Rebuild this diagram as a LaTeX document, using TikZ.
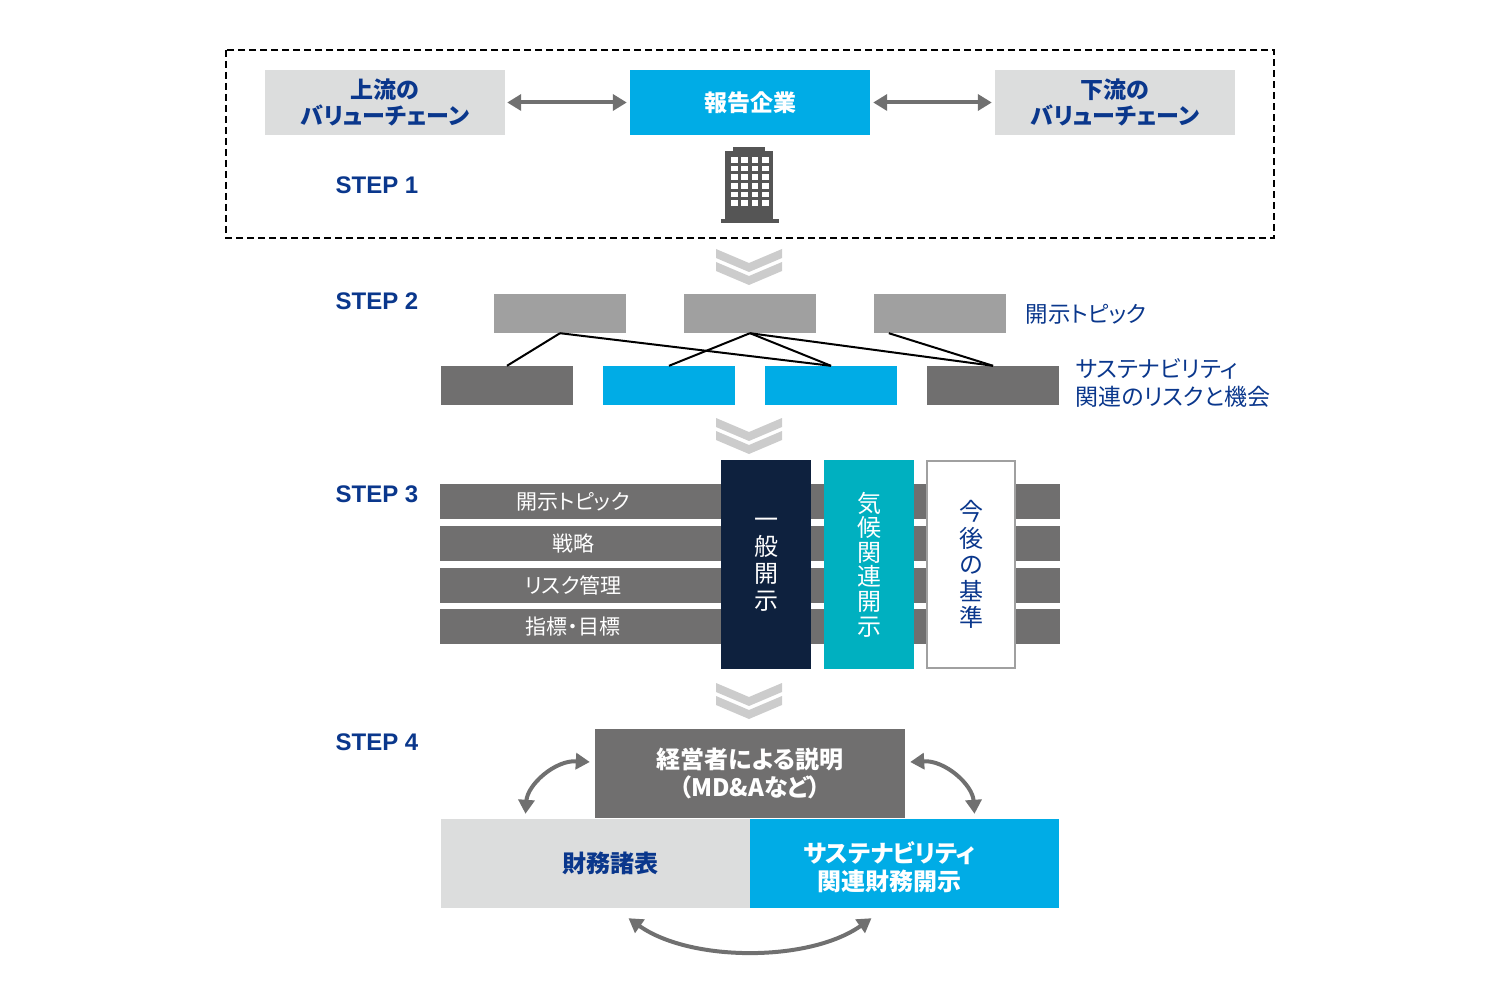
\documentclass[tikz,border=0pt]{standalone}
\usepackage{fontspec}
\setmainfont{Noto Sans CJK JP}[RawFeature=+palt]
\newfontfamily\stepfont{Liberation Sans}
\usetikzlibrary{arrows.meta}
\definecolor{navy}{RGB}{10,55,140}
\definecolor{skyblue}{RGB}{0,172,230}
\definecolor{paleGray}{RGB}{220,221,221}
\definecolor{topicGray}{RGB}{160,160,160}
\definecolor{barGray}{RGB}{112,111,111}
\definecolor{chevGray}{RGB}{204,204,204}
\definecolor{linkGray}{RGB}{112,112,112}
\definecolor{towerGray}{RGB}{85,85,85}
\definecolor{deepNavy}{RGB}{14,33,62}
\definecolor{climTeal}{RGB}{0,176,192}
\begin{document}
\begin{tikzpicture}[x=1pt,y=-1pt,
    chainbox/.style={inner sep=0pt,minimum width=240pt,minimum height=65pt,align=center,font=\bfseries\fontsize{23}{26}\selectfont},
    steplabel/.style={text=navy,font=\stepfont\bfseries\fontsize{24}{28}\selectfont},
    topicbox/.style={fill=topicGray,inner sep=0pt,minimum width=132pt,minimum height=39pt},
    riskbox/.style={inner sep=0pt,minimum width=132pt,minimum height=39pt},
    rowbar/.style={fill=barGray,inner sep=0pt,minimum width=620pt,minimum height=35pt},
    rowtext/.style={text=white,font=\fontsize{21}{25}\selectfont},
    pillar/.style={inner sep=0pt,minimum width=90pt,minimum height=209pt,align=center},
    reportbox/.style={inner sep=0pt,minimum width=309pt,minimum height=89pt},
    linkarrow/.style={linkGray,line width=4pt,{Triangle[length=14pt,width=16pt]}-{Triangle[length=14pt,width=16pt]}}]
    \useasboundingbox (0,0) rectangle (1500,1000);
    % step 1
    \draw[dashed,line width=1.5pt,dash pattern=on 7pt off 4pt] (226,50) rectangle (1274,238);
    \node[chainbox,fill=paleGray,text=navy] (up) at (385,102.5) {上流の\\バリューチェーン};
    \node[chainbox,fill=skyblue,text=white] (firm) at (750,102.5) {報告企業};
    \node[chainbox,fill=paleGray,text=navy] (down) at (1115,102.5) {下流の\\バリューチェーン};
    \draw[linkarrow,shorten <=2pt,shorten >=3pt] (up) -- (firm);
    \draw[linkarrow,shorten <=3pt,shorten >=3pt] (firm) -- (down);
    \node[steplabel] (s1) at (377,185) {STEP 1};
    \fill[towerGray] (733,147) rectangle (765,152);
    \fill[towerGray] (725,151) rectangle (773,220);
    \fill[towerGray] (721,219) rectangle (779,223);
    \foreach \c in {0,...,3}
        \foreach \r in {0,...,5}
            \fill[white] (731+\c*10.4,157+\r*8.7) rectangle ++(6.6,5.6);
    % chevrons
    \foreach \cy in {249,418,683}
        \foreach \d in {0,13}
            \fill[chevGray] (716,\cy+\d) -- (749,\cy+\d+14) -- (782,\cy+\d) -- (782,\cy+\d+9)
                -- (749,\cy+\d+23) -- (716,\cy+\d+9) -- cycle;
    % step 2
    \node[steplabel] (s2) at (377,301) {STEP 2};
    \node[topicbox] (t1) at (560,313.5) {};
    \node[topicbox] (t2) at (750,313.5) {};
    \node[topicbox] (t3) at (940,313.5) {};
    \node[riskbox,fill=barGray] (r1) at (507,385.5) {};
    \node[riskbox,fill=skyblue] (r2) at (669,385.5) {};
    \node[riskbox,fill=skyblue] (r3) at (831,385.5) {};
    \node[riskbox,fill=barGray] (r4) at (993,385.5) {};
    \draw[line width=2pt] (t1.south) -- (r1.north);
    \draw[line width=2pt] (t1.south) -- (r3.north);
    \draw[line width=2pt] (t2.south) -- (r2.north);
    \draw[line width=2pt] (t2.south) -- (r3.north);
    \draw[line width=2pt] (t2.south) -- (r4.north);
    \draw[line width=2pt] ([xshift=15pt]t3.south west) -- (r4.north);
    \node[anchor=west,text=navy,font=\fontsize{22.5}{28}\selectfont] (topics) at (1022,314) {開示トピック};
    \node[anchor=west,align=left,text=navy,font=\fontsize{23}{28}\selectfont] (risks) at (1072,383) {サステナビリティ\\関連のリスクと機会};
    % step 3
    \node[steplabel] (s3) at (377,494) {STEP 3};
    \node[rowbar] (b1) at (750,501) {};
    \node[rowbar] (b2) at (750,543) {};
    \node[rowbar] (b3) at (750,585) {};
    \node[rowbar] (b4) at (750,626.5) {};
    \node[rowtext] (l1) at (573,501.5) {開示トピック};
    \node[rowtext] (l2) at (573,543.5) {戦略};
    \node[rowtext] (l3) at (573,585.5) {リスク管理};
    \node[rowtext] (l4) at (573,627) {指標・目標};
    \node[pillar,fill=deepNavy,text=white,font=\fontsize{24}{27}\selectfont] (gen) at (766,564.5) {一\\般\\開\\示};
    \node[pillar,fill=climTeal,text=white,font=\fontsize{24}{24.6}\selectfont] (clim) at (869,564.5) {気\\候\\関\\連\\開\\示};
    \node[pillar,fill=white,draw=topicGray,line width=2pt,minimum width=88pt,minimum height=207pt,text=navy,font=\fontsize{24}{26.5}\selectfont] (fut) at (971,564.5) {今\\後\\の\\基\\準};
    % step 4
    \node[steplabel] (s4) at (377,742) {STEP 4};
    \node[reportbox,fill=barGray,minimum width=310pt,text=white,align=center,font=\bfseries\fontsize{24}{28}\selectfont] (mda) at (750,773.5) {経営者による説明\\（MD\&Aなど）};
    \node[reportbox,fill=paleGray] (fin) at (595.5,863.5) {};
    \node[reportbox,fill=skyblue] (sus) at (904.5,863.5) {};
    \node[text=navy,font=\bfseries\fontsize{24}{28}\selectfont] (finlabel) at ([xshift=15pt]fin.center) {財務諸表};
    \node[text=white,align=center,font=\bfseries\fontsize{24}{28}\selectfont] (suslabel) at ([xshift=-15pt,yshift=-3.5pt]sus.center) {サステナビリティ\\関連財務開示};
    \coordinate (mdaL) at ([shift={(-5pt,11.5pt)}]mda.west);
    \coordinate (mdaR) at ([shift={(5pt,11.5pt)}]mda.east);
    \coordinate (finT) at ([shift={(-70pt,5pt)}]fin.north);
    \coordinate (susT) at ([shift={(70pt,5pt)}]sus.north);
    \coordinate (finB) at ([shift={(33pt,-10pt)}]fin.south);
    \coordinate (susB) at ([shift={(-33pt,-10pt)}]sus.south);
    \draw[linkarrow] (mdaL) .. controls +(-35,-2) and +(2,-29) .. (finT);
    \draw[linkarrow] (mdaR) .. controls +(35,-2) and +(-2,-29) .. (susT);
    \draw[linkarrow] (finB) .. controls +(62,44) and +(-62,44) .. (susB);
\end{tikzpicture}
\end{document}
